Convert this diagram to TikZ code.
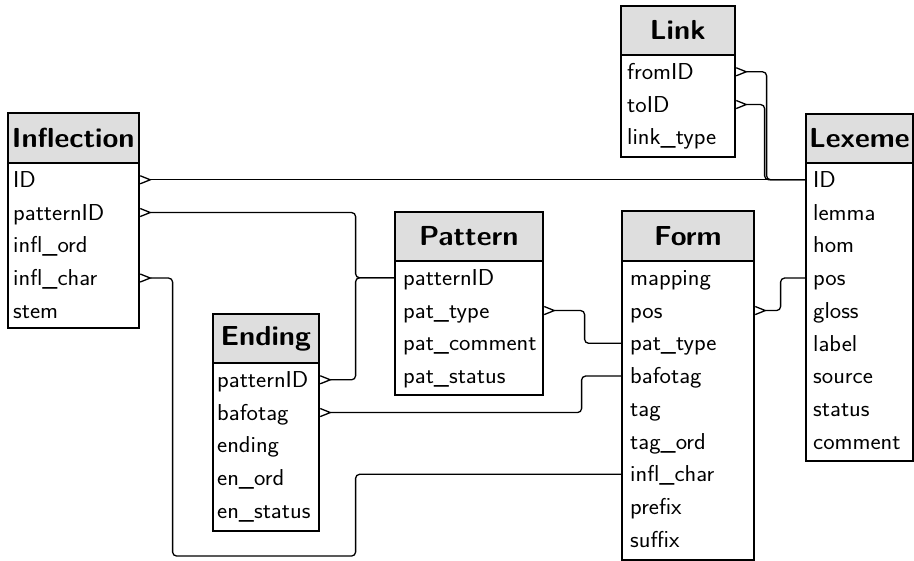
\documentclass[tikz,border=0pt]{standalone}
\usepackage{fontspec}
\setsansfont{Latin Modern Sans}[FakeStretch=1.05]
\usetikzlibrary{arrows.meta}
\definecolor{hdr}{RGB}{222,222,222}
\tikzset{
  titlebox/.style={draw, line width=1.6pt, fill=hdr, anchor=north west, inner sep=0pt,
    font=\fontsize{27.5}{30}\selectfont\sffamily\bfseries},
  bodybox/.style={draw, line width=1.6pt, anchor=north west, inner sep=0pt},
  field/.style={anchor=west, inner sep=0pt, text height=18pt, text depth=3pt,
    font=\fontsize{23}{25}\selectfont\sffamily},
  conn/.style={line width=1.3pt, rounded corners=4pt},
  crow/.style={arrows={{Straight Barb[reversed,length=10pt,width=8pt]}-}},
}
% #1 name, #2 title, #3 left, #4 right, #5 top, #6 separator, #7 bottom, #8 fields, #9 text inset
\newcommand\ertable[9]{%
  \node[titlebox, minimum width={#4-#3}, minimum height={#6-#5}] (#1) at (#3,#5) {#2};
  \node[bodybox, minimum width={#4-#3}, minimum height={#7-#6}] (#1body) at (#3,#6) {};
  \foreach \t [count=\i] in {#8}
    \node[field] (#1-\i) at ({#3+#9},{#6+17.8+(\i-1)*32.75}) {\t};
}
\begin{document}
\begin{tikzpicture}[x=1pt,y=-1pt]
\useasboundingbox (0,0) rectangle (914,561);

\ertable{link}{Link}{620}{734}{5}{54}{156}{fromID,toID,link\_type}{7}
\ertable{lex}{Lexeme}{805}{912}{113}{162}{460}{ID,lemma,hom,pos,gloss,label,source,status,comment}{8}
\ertable{infl}{Inflection}{7}{138}{112}{162}{327}{ID,patternID,infl\_ord,infl\_char,stem}{6}
\ertable{endg}{Ending}{212}{318}{313}{362}{530}{patternID,bafotag,ending,en\_ord,en\_status}{5}
\ertable{pat}{Pattern}{394}{542}{211}{260}{394}{patternID,pat\_type,pat\_comment,pat\_status}{9}
\ertable{form}{Form}{621}{753}{210}{260}{559}{mapping,pos,pat\_type,bafotag,tag,tag\_ord,infl\_char,prefix,suffix}{9}

% connectors (crow's foot at the many side)
\draw[conn,crow] (linkbody.east |- link-1) -- ++(31,0) |- (lexbody.west |- lex-1);
\draw[conn,crow] (linkbody.east |- link-2) -- ++(29,0) |- (lexbody.west |- lex-1);
\draw[conn,crow] (inflbody.east |- infl-1) -- (lexbody.west |- lex-1);
\draw[conn,crow] (inflbody.east |- infl-2) -- ++(216,0) |- (patbody.west |- pat-1);
\draw[conn,crow] (endgbody.east |- endg-1) -- ++(36,0) |- (patbody.west |- pat-1);
\draw[conn,crow] (patbody.east |- pat-2) -- ++(41,0) |- (formbody.west |- form-3);
\draw[conn,crow] (endgbody.east |- endg-2) -- ++(262,0) |- (formbody.west |- form-4);
\draw[conn,crow] (inflbody.east |- infl-4) -- ++(33,0) -- ++(0,278) -- ++(183,0) |- (formbody.west |- form-7);
\draw[conn,crow] (formbody.east |- form-2) -- ++(26,0) |- (lexbody.west |- lex-4);
\end{tikzpicture}
\end{document}
